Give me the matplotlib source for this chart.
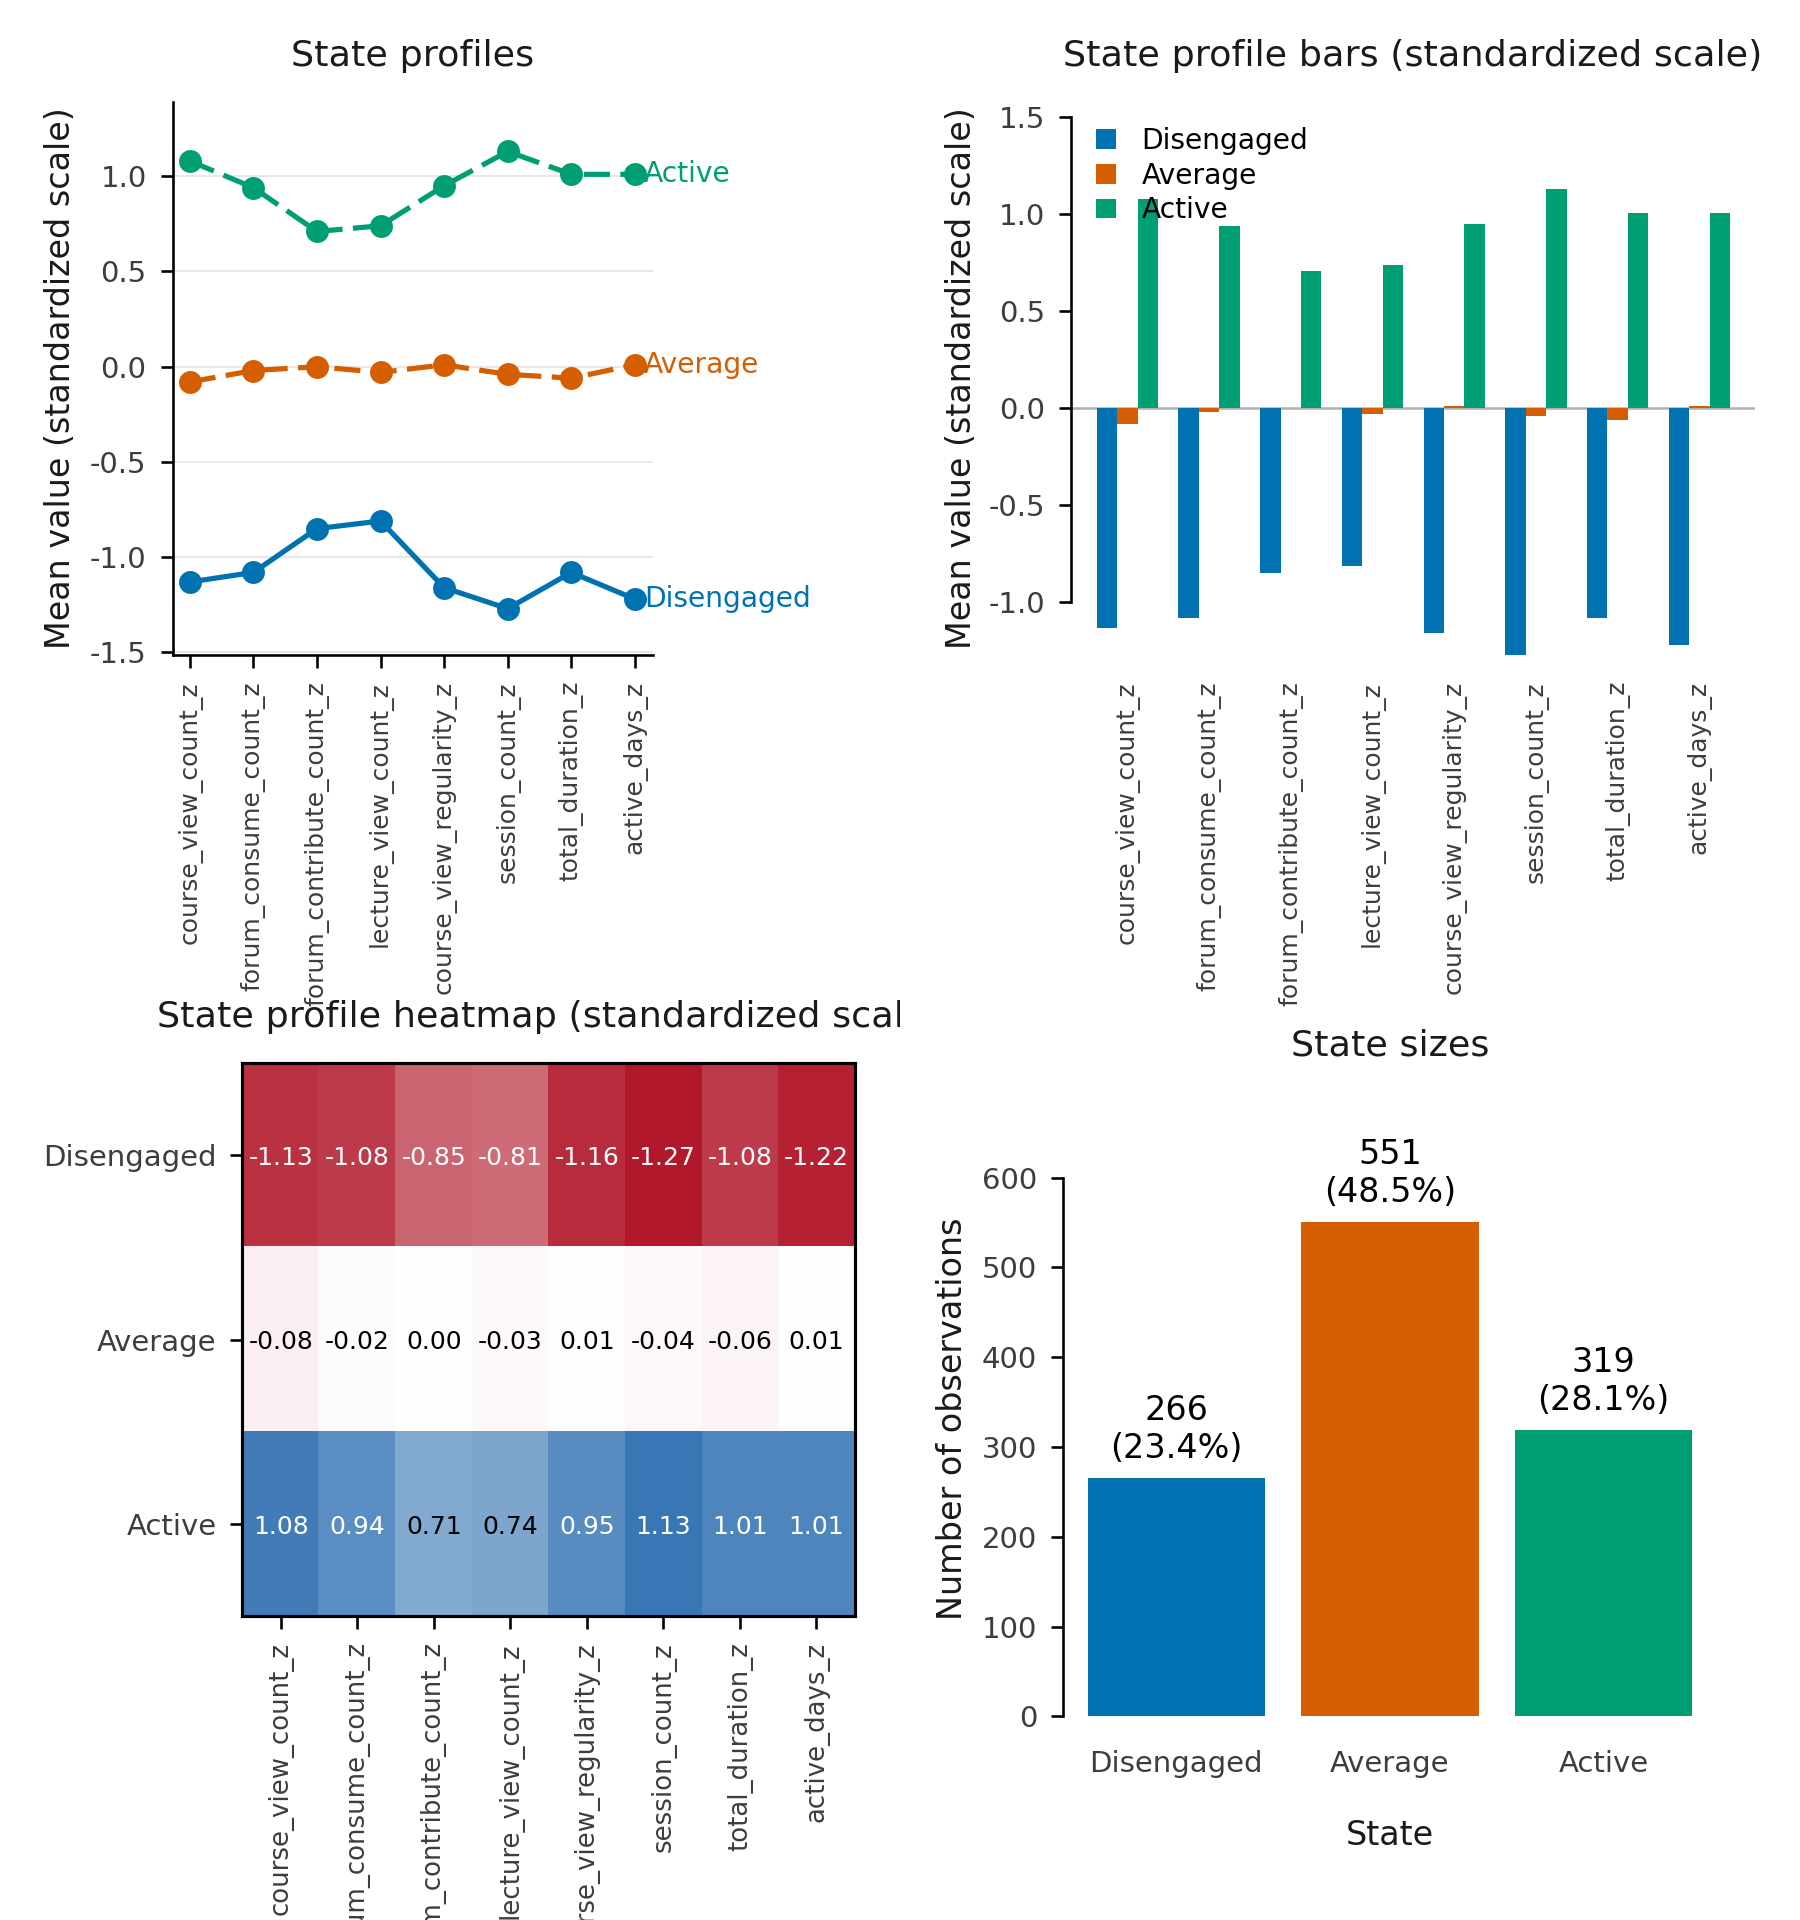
import numpy as np
import matplotlib
matplotlib.use("Agg")
import matplotlib.pyplot as plt
from matplotlib.colors import LinearSegmentedColormap
from matplotlib.transforms import Bbox, TransformedBbox

# ------------------------------------------------------------------
# Data
# ------------------------------------------------------------------
features = [
    "course_view_count_z", "forum_consume_count_z", "forum_contribute_count_z",
    "lecture_view_count_z", "course_view_regularity_z", "session_count_z",
    "total_duration_z", "active_days_z",
]
states = ["Disengaged", "Average", "Active"]

disengaged = [-1.13, -1.08, -0.85, -0.81, -1.16, -1.27, -1.08, -1.22]
average = [-0.08, -0.02, 0.00, -0.03, 0.01, -0.04, -0.06, 0.01]
active = [1.08, 0.94, 0.71, 0.74, 0.95, 1.13, 1.01, 1.01]

counts = [266, 551, 319]

state_colors = ["#0072b2", "#d55e00", "#009e73"]

# ------------------------------------------------------------------
# Style
# ------------------------------------------------------------------
plt.rcParams["font.family"] = ["DejaVu Sans"]
plt.rcParams["axes.unicode_minus"] = False

TITLE_C = "#1a1a1a"
TICK_C = "#3d3d3d"
TICK_FS = 14
FEAT_FS = 12
TITLE_FS = 17.5
LABEL_FS = 16

profiles = np.array([disengaged, average, active])
x = np.arange(len(features))

fig = plt.figure(figsize=(12, 12.8), dpi=150)


def style_axis(ax):
    for s in ax.spines.values():
        s.set_linewidth(1.25)
        s.set_color("black")
    ax.tick_params(axis="both", length=6, width=1.25, pad=6.5,
                   labelsize=TICK_FS, labelcolor=TICK_C)


# ------------------------------------------------------------------
# State profiles (lines)
# ------------------------------------------------------------------
ax1 = fig.add_axes([0.0959, 0.6589, 0.2667, 0.2882])
style_axis(ax1)
line_styles = ["-", (0, (5, 2)), (0, (5, 2))]
for i, name in enumerate(states):
    ax1.plot(x, profiles[i], color=state_colors[i], lw=2.5, ls=line_styles[i],
             marker="o", markersize=10, zorder=3)
    ax1.text(x[-1] + 0.14, profiles[i][-1], name, color=state_colors[i],
             fontsize=13.5, ha="left", va="center")
ax1.set_xlim(-0.27, 7.28)
ax1.set_ylim(-1.513, 1.392)
ax1.set_yticks([-1.5, -1.0, -0.5, 0.0, 0.5, 1.0])
ax1.yaxis.grid(True, color="#e8e8e8", lw=1)
ax1.set_axisbelow(True)
ax1.set_xticks(x)
ax1.set_xticklabels(features, rotation=90, fontsize=FEAT_FS)
ax1.spines[["top", "right"]].set_visible(False)
ax1.set_ylabel("Mean value (standardized scale)", fontsize=LABEL_FS,
               color=TITLE_C, labelpad=6)
ax1.set_title("State profiles", fontsize=TITLE_FS, color=TITLE_C, pad=17)

# ------------------------------------------------------------------
# State profile bars
# ------------------------------------------------------------------
ax2 = fig.add_axes([0.595, 0.6589, 0.38, 0.2882])
style_axis(ax2)
bw = 0.25
for i, name in enumerate(states):
    ax2.bar(x + (i - 1) * bw, profiles[i], width=bw, color=state_colors[i],
            label=name, zorder=2)
ax2.axhline(0, color="#b0b0b0", lw=1.2, zorder=1)
ax2.set_xlim(-0.69, 7.68)
ax2.set_ylim(-1.271, 1.582)
ax2.set_yticks([-1.0, -0.5, 0.0, 0.5, 1.0, 1.5])
ax2.spines[["top", "right", "bottom"]].set_visible(False)
ax2.spines["left"].set_bounds(-1.0, 1.5)
ax2.set_xticks(x)
ax2.set_xticklabels(features, rotation=90, fontsize=FEAT_FS)
ax2.tick_params(axis="x", color="none")
ax2.set_ylabel("Mean value (standardized scale)", fontsize=LABEL_FS,
               color=TITLE_C, labelpad=5)
ax2.set_title("State profile bars (standardized scale)", fontsize=TITLE_FS,
              color=TITLE_C, pad=17)
ax2.legend(loc="upper left", frameon=False, fontsize=13.5, handlelength=0.7,
           handleheight=0.7, handletextpad=0.9, labelspacing=0.24)

# ------------------------------------------------------------------
# Heatmap
# ------------------------------------------------------------------
ax3 = fig.add_axes([0.1347, 0.1582, 0.3401, 0.2882])
vmax = np.abs(profiles).max()
cmap = LinearSegmentedColormap.from_list(
    "rwb", ["#b2182b", "#ffffff", "#2166ac"], N=1024)
ax3.imshow(profiles, cmap=cmap, vmin=-vmax, vmax=vmax, aspect="auto",
           interpolation="nearest")
for r in range(profiles.shape[0]):
    for c in range(profiles.shape[1]):
        v = profiles[r, c]
        tc = "white" if abs(v) > 0.76 else "black"
        ax3.text(c, r, f"{v:.2f}", ha="center", va="center_baseline",
                 color=tc, fontsize=12)
for s in ax3.spines.values():
    s.set_linewidth(1.5)
    s.set_color("black")
ax3.tick_params(axis="both", length=6, width=1.25, pad=6.5,
                labelsize=TICK_FS, labelcolor=TICK_C)
ax3.set_xticks(x)
ax3.set_xticklabels(features, rotation=90, fontsize=12.5)
ax3.set_yticks(range(len(states)))
ax3.set_yticklabels(states)
t3 = ax3.set_title("State profile heatmap (standardized scale)",
                   fontsize=TITLE_FS, color=TITLE_C, pad=17)
t3.set_clip_box(TransformedBbox(Bbox([[0, 0], [0.5, 1]]), fig.transFigure))
t3.set_clip_on(True)

# ------------------------------------------------------------------
# State sizes
# ------------------------------------------------------------------
ax4 = fig.add_axes([0.5906, 0.1061, 0.3631, 0.3095])
style_axis(ax4)
pos = np.arange(len(states))
ax4.bar(pos, counts, width=0.83, color=state_colors)
total = sum(counts)
for p, c in zip(pos, counts):
    ax4.annotate(f"{c}\n({c / total * 100:.1f}%)", (p, c), xytext=(0, 6),
                 textcoords="offset points", ha="center", va="bottom",
                 fontsize=16, color="black", linespacing=1.2)
ax4.set_xlim(-0.53, 2.53)
ax4.set_ylim(0, 662)
ax4.set_yticks(range(0, 601, 100))
ax4.spines[["top", "right", "bottom"]].set_visible(False)
ax4.spines["left"].set_bounds(0, 600)
ax4.set_xticks(pos)
ax4.set_xticklabels(states)
ax4.tick_params(axis="x", color="none", pad=10)
ax4.set_xlabel("State", fontsize=LABEL_FS, color=TITLE_C, labelpad=20)
ax4.set_ylabel("Number of observations", fontsize=LABEL_FS, color=TITLE_C,
               labelpad=6)
ax4.set_title("State sizes", fontsize=TITLE_FS, color=TITLE_C, pad=32)

fig.savefig("out.png", dpi=150)
